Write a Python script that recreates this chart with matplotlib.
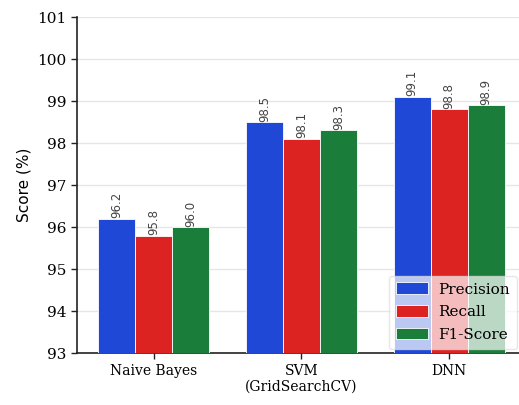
import numpy as np
import matplotlib
matplotlib.use("Agg")
import matplotlib.pyplot as plt

models = ["Naive Bayes", "SVM\n(GridSearchCV)", "DNN"]
metrics = ["Precision", "Recall", "F1-Score"]
precision = [96.2, 98.5, 99.1]
recall = [95.8, 98.1, 98.8]
f1 = [96.0, 98.3, 98.9]
yticks = [93, 94, 95, 96, 97, 98, 99, 100, 101]

colors = ["#1f48d6", "#dd2222", "#1a7d3a"]
series = [precision, recall, f1]

fig = plt.figure(figsize=(5.19, 4.05), dpi=100)
ax = fig.add_axes([0.148, 0.128, 0.857, 0.83])

x = np.arange(len(models))
w = 0.25
for i, (vals, c, name) in enumerate(zip(series, colors, metrics)):
    bars = ax.bar(x + (i - 1) * w, vals, w, color=c, edgecolor="white",
                  linewidth=0.6, label=name, zorder=3)
    for b, v in zip(bars, vals):
        ax.text(b.get_x() + b.get_width() / 2, v + 0.01, f"{v:.1f}",
                rotation=90, ha="center", va="bottom", fontsize=8.5,
                color="#444444", family="DejaVu Sans", zorder=4)

ax.set_ylim(93, 101)
ax.set_xlim(-0.52, 2.49)
ax.set_yticks(yticks)
ax.set_xticks(x)
ax.set_xticklabels(models, family="DejaVu Serif", fontsize=10)
for lab in ax.get_yticklabels():
    lab.set_family("DejaVu Serif")
    lab.set_fontsize(11)
ax.set_ylabel("Score (%)", fontsize=11, family="DejaVu Sans")
ax.grid(axis="y", color="#e6e6e6", linewidth=1, zorder=0)
ax.spines["top"].set_visible(False)
ax.spines["right"].set_visible(False)
ax.spines["left"].set_color("#222222")
ax.spines["bottom"].set_color("#222222")
ax.spines["left"].set_linewidth(1.2)
ax.spines["bottom"].set_linewidth(1.2)
ax.tick_params(length=4, width=1, color="#222222")

leg = ax.legend(loc="lower right", prop={"family": "DejaVu Serif", "size": 11},
                framealpha=0.7, borderaxespad=0.3, borderpad=0.45,
                handlelength=2.1, handleheight=0.8, labelspacing=0.55,
                handletextpad=0.7)
leg.get_frame().set_edgecolor("#dddddd")

fig.savefig("out.png", dpi=100)
